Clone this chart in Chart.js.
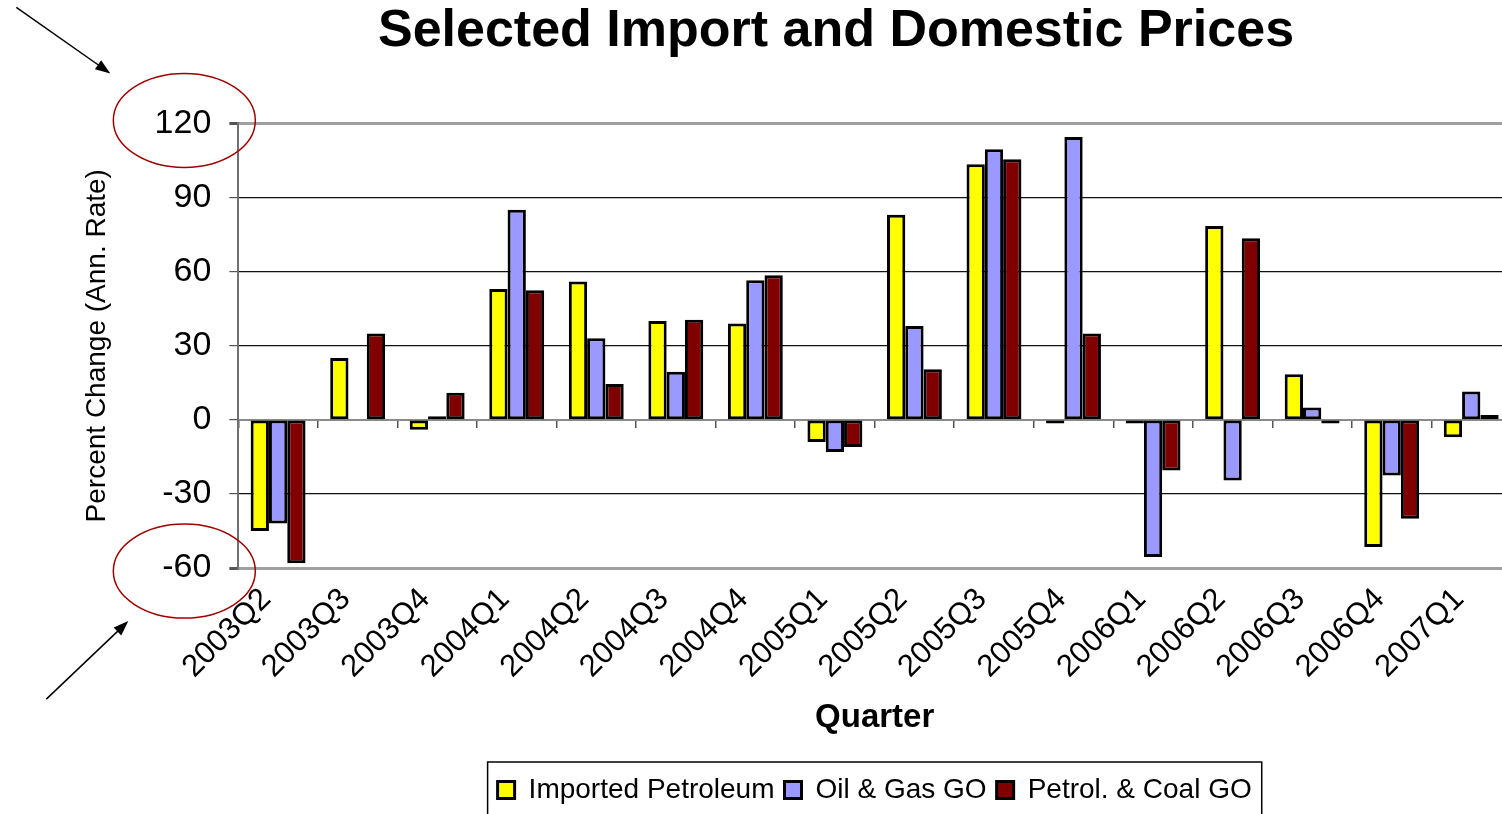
<!DOCTYPE html>
<html>
<head>
<meta charset="utf-8">
<title>Selected Import and Domestic Prices</title>
<script src="https://cdn.jsdelivr.net/npm/chart.js@4.4.1/dist/chart.umd.min.js"></script>
<style>
  html, body { margin: 0; padding: 0; background: #fff; overflow: hidden; }
  #wrap { position: relative; width: 1672px; height: 814px; }
</style>
</head>
<body>
<div id="wrap"><canvas id="myChart"></canvas></div>
<script>
var quarters = ['2003Q2', '2003Q3', '2003Q4', '2004Q1', '2004Q2', '2004Q3', '2004Q4', '2005Q1',
  '2005Q2', '2005Q3', '2005Q4', '2006Q1', '2006Q2', '2006Q3', '2006Q4', '2007Q1']
var importedPetroleum = [-45, 25, -4, 53, 56, 40, 39, -9, 83, 103.5, -1.5, -1.5, 78.5, 18.5, -51.5, -7]
var oilGasGO = [-42, null, 1.5, 85, 33, 19.5, 56.5, -13, 38, 109.5, 114.5, -55.5, -24.5, 5, -22.5, 11.5]
var petrolCoalGO = [-58, 35, 11, 52.5, 14.5, 40.5, 58.5, -11, 20.5, 105.5, 35, -20.5, 73.5, -1.5, -40, 2]
var yTicks = [-60, -30, 0, 30, 60, 90, 120]

Chart.defaults.font.family = '"Liberation Sans", Arial, sans-serif'
Chart.defaults.color = '#000'

// frame drawn round the legend items
var legendFrame = {
  id: 'legendFrame',
  afterDraw: function(chart) {
    var lg = chart.legend
    if (!lg || !lg.legendHitBoxes.length) return
    var boxes = lg.legendHitBoxes
    var left = boxes[0].left, right = boxes[0].left + boxes[0].width
    boxes.forEach(function(b) {
      left = Math.min(left, b.left)
      right = Math.max(right, b.left + b.width)
    })
    var ctx = chart.ctx
    ctx.save()
    ctx.strokeStyle = '#000'
    ctx.lineWidth = 1.5
    ctx.strokeRect(left - 10, lg.top - 4, right - left + 20, chart.height)
    ctx.restore()
  }
}

// red rings round the end labels of the value axis, with pointer arrows
var callouts = {
  id: 'callouts',
  afterDraw: function(chart) {
    var y = chart.scales.y
    var ctx = chart.ctx
    var cx = chart.chartArea.left - 54
    var top = y.getPixelForValue(yTicks[yTicks.length - 1])
    var bottom = y.getPixelForValue(yTicks[0])
    ctx.save()
    ctx.strokeStyle = '#a00000'
    ctx.lineWidth = 1.5
    ctx.beginPath()
    ctx.ellipse(cx, top - 3, 71, 47, 0, 0, Math.PI * 2)
    ctx.stroke()
    ctx.beginPath()
    ctx.ellipse(cx, bottom + 3, 71, 47, 0, 0, Math.PI * 2)
    ctx.stroke()

    function arrow(x0, y0, x1, y1) {
      var a = Math.atan2(y1 - y0, x1 - x0)
      ctx.strokeStyle = '#000'
      ctx.fillStyle = '#000'
      ctx.lineWidth = 1.5
      ctx.beginPath()
      ctx.moveTo(x0, y0)
      ctx.lineTo(x1 - 12 * Math.cos(a), y1 - 12 * Math.sin(a))
      ctx.stroke()
      ctx.beginPath()
      ctx.moveTo(x1, y1)
      ctx.lineTo(x1 - 16 * Math.cos(a - 0.35), y1 - 16 * Math.sin(a - 0.35))
      ctx.lineTo(x1 - 16 * Math.cos(a + 0.35), y1 - 16 * Math.sin(a + 0.35))
      ctx.closePath()
      ctx.fill()
    }
    arrow(cx - 168, top - 116, cx - 74, top - 50)
    arrow(cx - 138, bottom + 131, cx - 56, bottom + 53)
    ctx.restore()
  }
}

var series = [
  { label: 'Imported Petroleum', data: importedPetroleum, color: '#ffff00' },
  { label: 'Oil & Gas GO', data: oilGasGO, color: '#9999ff' },
  { label: 'Petrol. & Coal GO', data: petrolCoalGO, color: '#800000' }
]

var chart = new Chart('myChart', {
  type: 'bar',
  data: {
    labels: quarters,
    datasets: series.map(function(s) {
      return {
        label: s.label,
        data: s.data,
        backgroundColor: s.color,
        borderColor: '#000',
        borderWidth: 3,
        borderSkipped: false,
        categoryPercentage: 0.69,
        barPercentage: 1.0
      }
    })
  },
  options: {
    responsive: true,
    maintainAspectRatio: false,
    animation: false,
    layout: { padding: 0 },
    plugins: {
      title: {
        display: true,
        text: 'Selected Import and Domestic Prices',
        font: { size: 52, weight: 'bold' },
        color: '#000',
        padding: { top: 0, bottom: 61 }
      },
      legend: {
        position: 'bottom',
        fullSize: false,
        labels: {
          boxWidth: 17,
          boxHeight: 17,
          padding: 10,
          color: '#000',
          font: { size: 28 }
        }
      },
      tooltip: { enabled: false }
    },
    scales: {
      x: {
        type: 'category',
        grid: { display: false, drawTicks: false },
        border: { display: false },
        ticks: {
          autoSkip: false,
          minRotation: 45,
          maxRotation: 45,
          padding: 13,
          labelOffset: -12,
          font: { size: 31 },
          color: '#000'
        },
        title: {
          display: true,
          text: 'Quarter',
          font: { size: 33, weight: 'bold' },
          color: '#000',
          padding: { top: 0, bottom: 28 }
        }
      },
      // category ticks sitting on the zero line
      x2: {
        type: 'category',
        position: { y: 0 },
        offset: true,
        grid: {
          offset: true,
          drawOnChartArea: false,
          drawTicks: true,
          tickLength: 7,
          color: '#555',
          lineWidth: 1.5
        },
        border: { display: true, color: '#8a8a8a', width: 2 },
        ticks: { display: false }
      },
      y: {
        min: -60,
        max: 120,
        afterBuildTicks: function(scale) {
          scale.ticks = yTicks.map(function(v) { return { value: v } })
        },
        ticks: {
          font: { size: 34 },
          color: '#000',
          padding: 18
        },
        grid: {
          tickLength: 9,
          tickColor: '#555',
          color: function(ctx) {
            var v = ctx.tick && ctx.tick.value
            if (v === 120 || v === -60) return '#a0a0a0'
            if (v === 0) return 'rgba(0,0,0,0)'
            return '#111'
          },
          lineWidth: function(ctx) {
            var v = ctx.tick && ctx.tick.value
            return (v === 120 || v === -60) ? 3 : 1.2
          }
        },
        border: { display: true, color: '#707070', width: 2 },
        title: {
          display: true,
          text: 'Percent Change (Ann. Rate)',
          font: { size: 28 },
          color: '#000',
          padding: { top: 80, bottom: 23 }
        }
      },
      // keeps the plot's right edge clear of the canvas edge
      yRight: {
        type: 'linear',
        position: 'right',
        axis: 'y',
        grid: { display: false },
        border: { display: false },
        ticks: { display: false },
        afterFit: function(scale) { scale.width = 161 }
      }
    }
  },
  plugins: [legendFrame, callouts]
})
</script>
</body>
</html>
